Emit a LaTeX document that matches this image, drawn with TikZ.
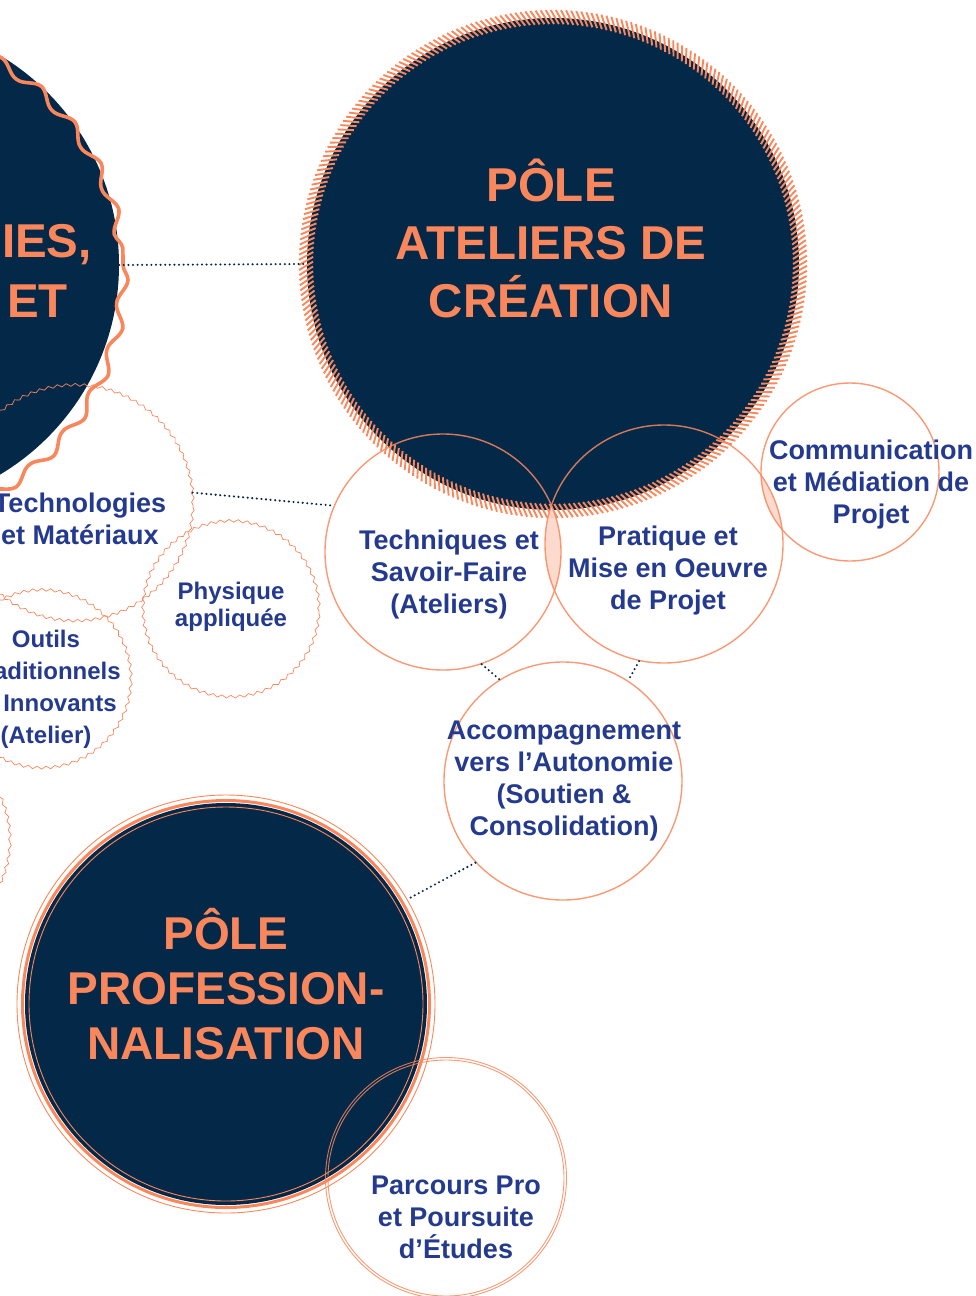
\documentclass[tikz,border=0pt]{standalone}
\usepackage{fontspec}
\setmainfont{Liberation Sans}
\usetikzlibrary{decorations.pathmorphing}
\definecolor{navy}{RGB}{4,40,72}
\definecolor{orng}{RGB}{250,135,92}
\definecolor{txtblue}{RGB}{36,58,142}
\definecolor{lenspink}{RGB}{252,212,198}
\begin{document}
\begin{tikzpicture}[x=1pt,y=-1pt,
  bigtxt/.style={text=orng, inner sep=0pt, font=\bfseries\fontsize{47.5}{58}\selectfont, align=center},
  proftxt/.style={text=orng, inner sep=0pt, font=\bfseries\fontsize{46}{55}\selectfont, align=center},
  smalltxt/.style={text=txtblue, inner sep=0pt, font=\bfseries\fontsize{27}{32}\selectfont, align=center},
  ring/.style={circle, inner sep=0pt, draw=orng, draw opacity=0.85, line width=1.4pt},
  wavy/.style={circle, inner sep=0pt, draw=orng, line width=0.7pt, decorate, decoration={snake, segment length=9pt, amplitude=1.4pt}},
  dots/.style={draw=navy, line width=2.3pt, line cap=round, dash pattern=on 0pt off 4.6pt},
  tick/.style={draw=orng, line width=1.9pt},
  disk/.style={circle, inner sep=0pt, fill=navy}
]
\useasboundingbox (0,0) rectangle (975,1296);
\clip (0,0) rectangle (975,1296);

% left pole (partly visible)
\node[disk, minimum size=488pt] (left) at (-125,265) {};
\draw[orng, line width=3.6pt, decorate, decoration={snake, segment length=48pt, amplitude=5pt}] (left.center) circle (248);
\node[bigtxt, anchor=east] (lt1) at (92,245) {IES,};
\node[bigtxt, anchor=east] (lt2) at (68,301) {ET};

% wavy sub-circles
\node[wavy, minimum size=236pt] (techn) at (75,505) {};
\node[wavy, minimum size=176pt] (phys) at (231,611) {};
\node[wavy, minimum size=178pt] (outils) at (42,681) {};
\node[wavy, minimum size=204pt] (farleft) at (-92,842) {};
\node[smalltxt] (techntxt) at (80,519) {Technologies\\et Matériaux};
\node[smalltxt, font=\bfseries\fontsize{24}{27}\selectfont] (physt) at (231,607) {Physique\\appliquée};
\node[smalltxt, font=\bfseries\fontsize{24}{32}\selectfont] (outilst) at (46,689) {Outils\\Traditionnels\\et Innovants\\(Atelier)};

% Ateliers pole
\node[disk, minimum size=492pt] (atel) at (553,264) {};
\begin{scope}[shift={(553,264)}]
  \foreach \a in {0,1.15,...,359.5}
    \draw[tick] (\a:240) -- (\a-1.9:254);
\end{scope}
\node[bigtxt] (atelt) at (551,238) {PÔLE\\ATELIERS DE\\CRÉATION};

% lenses
\begin{scope}
  \clip (443,552) circle (118);
  \fill[lenspink, fill opacity=0.85] (664,544) circle (119);
\end{scope}
\begin{scope}
  \clip (664,544) circle (119);
  \fill[lenspink, fill opacity=0.85] (850,472) circle (89);
\end{scope}

% rings
\node[ring, minimum size=236pt] (tech) at (443,552) {};
\node[ring, minimum size=238pt] (prat) at (664,544) {};
\node[ring, minimum size=178pt] (comm) at (850,472) {};
\node[ring, minimum size=238pt] (acc) at (563,781) {};
\node[smalltxt] (techt) at (449,575) {Techniques et\\Savoir-Faire\\(Ateliers)};
\node[smalltxt] (pratt) at (668,571) {Pratique et\\Mise en Oeuvre\\de Projet};
\node[smalltxt] (commt) at (871,485) {Communication\\et Médiation de\\Projet};
\node[smalltxt] (acct) at (564,781) {Accompagnement\\vers l’Autonomie\\(Soutien \&\\Consolidation)};

% Professionnalisation pole
\node[circle, inner sep=0pt, minimum size=418pt, draw=orng, line width=0.9pt] (prof) at (226,1004) {};
\fill[navy] (prof.center) circle (201);
\draw[orng, line width=3pt] (prof.center) circle (203.5);
\draw[orng, line width=0.9pt] (prof.center) circle (197);
\node[proftxt] (proft) at (226,984) {PÔLE\\PROFESSION-\\NALISATION};

% Parcours
\node[ring, minimum size=236pt, line width=0.9pt] (parc) at (446,1178) {};
\draw[orng, draw opacity=0.85, line width=0.9pt] (parc.center) circle (120.5);
\node[smalltxt] (parct) at (456,1217) {Parcours Pro\\et Poursuite\\d’Études};

% connectors
\draw[dots] (left.0) -- (atel.180);
\draw[dots] (techn.6) -- (tech.157);
\draw[dots] (tech.-71) -- (acc.122);
\draw[dots] (prat.-102) -- (acc.57);
\draw[dots] (acc.-137) -- (prof.30);
\end{tikzpicture}
\end{document}
